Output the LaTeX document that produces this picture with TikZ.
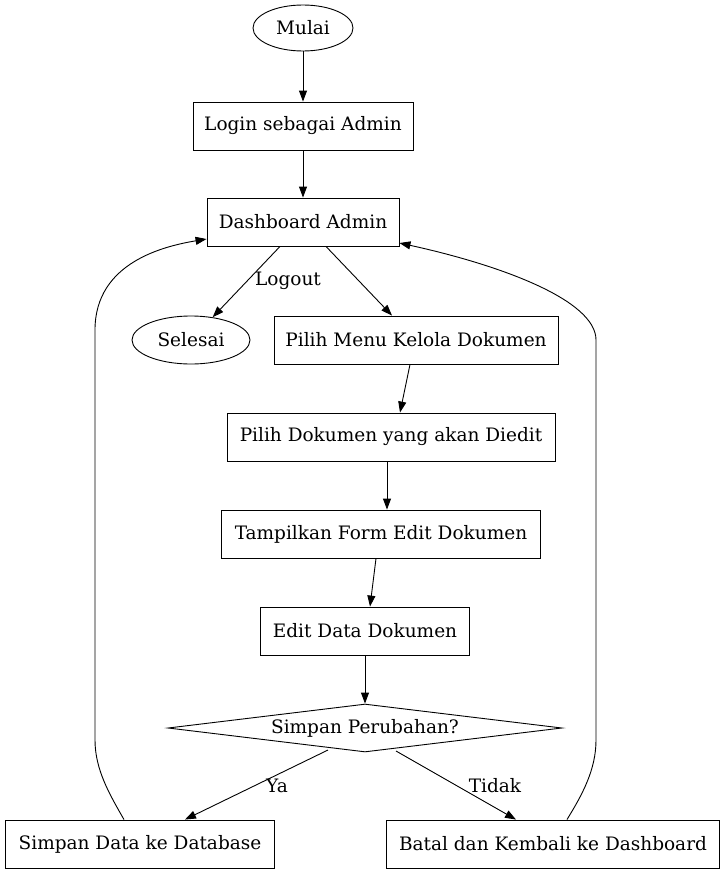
\documentclass[tikz,border=0pt]{standalone}
\usepackage{fontspec}
\setmainfont{DejaVu Serif}
\usetikzlibrary{shapes.geometric,arrows.meta,calc}
\begin{document}
\begin{tikzpicture}[x=1pt,y=-1pt,line width=0.9pt,
  every node/.style={font=\fontsize{18.5}{22}\selectfont},
  box/.style={draw,rectangle,minimum height=48pt,inner sep=0pt},
  oval/.style={draw,ellipse,minimum height=46pt,inner sep=0pt},
  dia/.style={draw,diamond,aspect=8.2,inner sep=0pt,minimum height=48pt,minimum width=394pt},
  arr/.style={-{Triangle[length=11pt,width=8pt]}},
  lbl/.style={inner sep=0pt}]
\useasboundingbox (0,0) rectangle (725,875);
\node[oval,minimum width=100pt] (mulai) at (303,28) {Mulai};
\node[box,minimum width=220pt] (login) at (303,126) {Login sebagai Admin};
\node[box,minimum width=192pt] (dash) at (303,222) {Dashboard Admin};
\node[oval,minimum width=118pt,minimum height=48pt] (selesai) at (191,340) {Selesai};
\node[box,minimum width=284pt] (menu) at (416,340) {Pilih Menu Kelola Dokumen};
\node[box,minimum width=328pt] (pilih) at (391,437) {Pilih Dokumen yang akan Diedit};
\node[box,minimum width=319pt] (form) at (381,534) {Tampilkan Form Edit Dokumen};
\node[box,minimum width=209pt] (edit) at (365,631) {Edit Data Dokumen};
\node[dia] (simpanq) at (365,728) {Simpan Perubahan?};
\node[box,minimum width=269pt] (simpan) at (140,844) {Simpan Data ke Database};
\node[box,minimum width=333pt] (batal) at (553,844) {Batal dan Kembali ke Dashboard};

\node[lbl] (lo) at (288,281) {Logout};
\node[lbl] (ya) at (277,786) {Ya};
\node[lbl] (td) at (495,786) {Tidak};

\draw[arr] (mulai) -- (login);
\draw[arr] (login) -- (dash);
\draw[arr] ([xshift=-23pt]dash.south) -- (selesai);
\draw[arr] ([xshift=23pt]dash.south) -- ([xshift=-24pt]menu.north);
\draw[arr] ([xshift=-6pt]menu.south) -- ([xshift=9pt]pilih.north);
\draw[arr] ([xshift=-4pt]pilih.south) -- ([xshift=6pt]form.north);
\draw[arr] ([xshift=-5pt]form.south) -- ([xshift=5pt]edit.north);
\draw[arr] (edit.south) -- (simpanq.north);
\draw[arr] ($(simpanq.center)+(-37,22)$) -- ([xshift=45pt]simpan.north);
\draw[arr] ($(simpanq.center)+(31,23)$) -- ([xshift=-37pt]batal.north);
\draw[arr] ([xshift=-16pt]simpan.north) .. controls (110,795) and (95,770) .. (95,740) -- (95,330) .. controls (95,262) and (165,246) .. ($(dash.west)+(0,17)$);
\draw[arr] ([xshift=14pt]batal.north) .. controls (582,795) and (596,770) .. (596,740) -- (596,340) .. controls (596,300) and (500,265) .. ($(dash.east)+(0,21)$);
\end{tikzpicture}
\end{document}
